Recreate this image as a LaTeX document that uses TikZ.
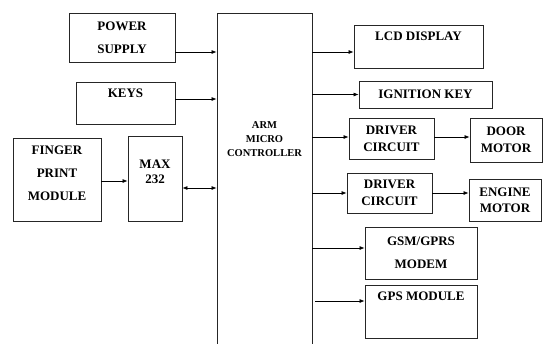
\documentclass[tikz,border=0pt]{standalone}
\usepackage{fontspec}
\setmainfont{Liberation Serif}
\usetikzlibrary{arrows.meta, calc}

\begin{document}
\begin{tikzpicture}[
  x=1pt, y=-1pt,
  box/.style={draw=black!85, line width=0.8pt, inner sep=0pt, align=center,
              font=\bfseries\fontsize{13}{17}\selectfont},
  loose/.style={font=\bfseries\fontsize{13}{23}\selectfont},
  toptxt/.style={label={[anchor=north, yshift=-4pt, align=center,
              font=\bfseries\fontsize{13}{17}\selectfont]north:#1}},
  arr/.style={-{Latex[length=5pt,width=4pt]}, line width=0.7pt},
  dbl/.style={{Latex[length=5pt,width=4pt]}-{Latex[length=5pt,width=4pt]}, line width=0.7pt}
]
  \useasboundingbox (0,0) rectangle (543,343);

  % inputs
  \node[box,loose,minimum width=106,minimum height=49] (pow)  at (122,37.5)  {POWER\\SUPPLY};
  \node[box,minimum width=99,minimum height=42,toptxt=KEYS] (keys) at (125.5,103) {};
  \node[box,minimum width=88,minimum height=83,
        label={[yshift=6pt,align=center,loose]center:FINGER\\PRINT\\MODULE}] (fing) at (57,179.5) {};
  \node[box,minimum width=54,minimum height=85,
        label={[yshift=7pt,align=center,font=\bfseries\fontsize{13}{15}\selectfont]center:MAX\\232}] (max) at (155,178.5) {};

  % controller
  \node[box,minimum width=95,minimum height=337,
        label={[yshift=42.5pt,align=center,font=\bfseries\fontsize{10.5}{14}\selectfont]center:ARM\\MICRO\\CONTROLLER}] (arm) at (264.5,181.5) {};

  % outputs
  \node[box,minimum width=129,minimum height=43,toptxt={LCD DISPLAY}] (lcd) at (418.5,46.5) {};
  \node[box,minimum width=133,minimum height=27] (ign)  at (425.5,94.5) {IGNITION KEY};
  \node[box,minimum width=85,minimum height=41]  (drv1) at (391.5,138.5) {DRIVER\\CIRCUIT};
  \node[box,minimum width=72,minimum height=44]  (door) at (506,140)    {DOOR\\MOTOR};
  \node[box,minimum width=85,minimum height=40]  (drv2) at (389.5,193)  {DRIVER\\CIRCUIT};
  \node[box,minimum width=72,minimum height=42,font=\bfseries\fontsize{13}{16}\selectfont]  (eng)  at (505,200) {ENGINE\\MOTOR};
  \node[box,loose,minimum width=112,minimum height=52] (gsm) at (421,253) {GSM/GPRS\\MODEM};
  \node[box,minimum width=112,minimum height=53,toptxt={GPS MODULE}] (gps) at (421,311.5) {};

  \draw[arr] ($(pow.east)+(0,14.5)$) -- ($(pow.east -| arm.west)+(0,14.5)$);
  \draw[arr] ($(keys.east)+(0,-4)$) -- ($(keys.east -| arm.west)+(0,-4)$);
  \draw[arr] ($(fing.east)+(0,1.5)$) -- ($(fing.east -| max.west)+(0,1.5)$);
  \draw[dbl] ($(max.east)+(0,9.5)$) -- ($(max.east -| arm.west)+(0,9.5)$);

  \draw[arr] ($(lcd.west -| arm.east)+(0,5.5)$) -- ($(lcd.west)+(0,5.5)$);
  \draw[arr] (ign.west -| arm.east) -- (ign.west);
  \draw[arr] ($(drv1.west -| arm.east)+(0,-1.5)$) -- ($(drv1.west)+(0,-1.5)$);
  \draw[arr] ($(drv1.east)+(0,-1.5)$) -- ($(drv1.east -| door.west)+(0,-1.5)$);
  \draw[arr] (drv2.west -| arm.east) -- (drv2.west);
  \draw[arr] (drv2.east) -- (drv2.east -| eng.west);
  \draw[arr] ($(gsm.west -| arm.east)+(0,-5)$) -- ($(gsm.west)+(0,-5)$);
  \draw[arr] ($(gps.west -| arm.east)+(3,-10.5)$) -- ($(gps.west)+(0,-10.5)$);
\end{tikzpicture}
\end{document}
